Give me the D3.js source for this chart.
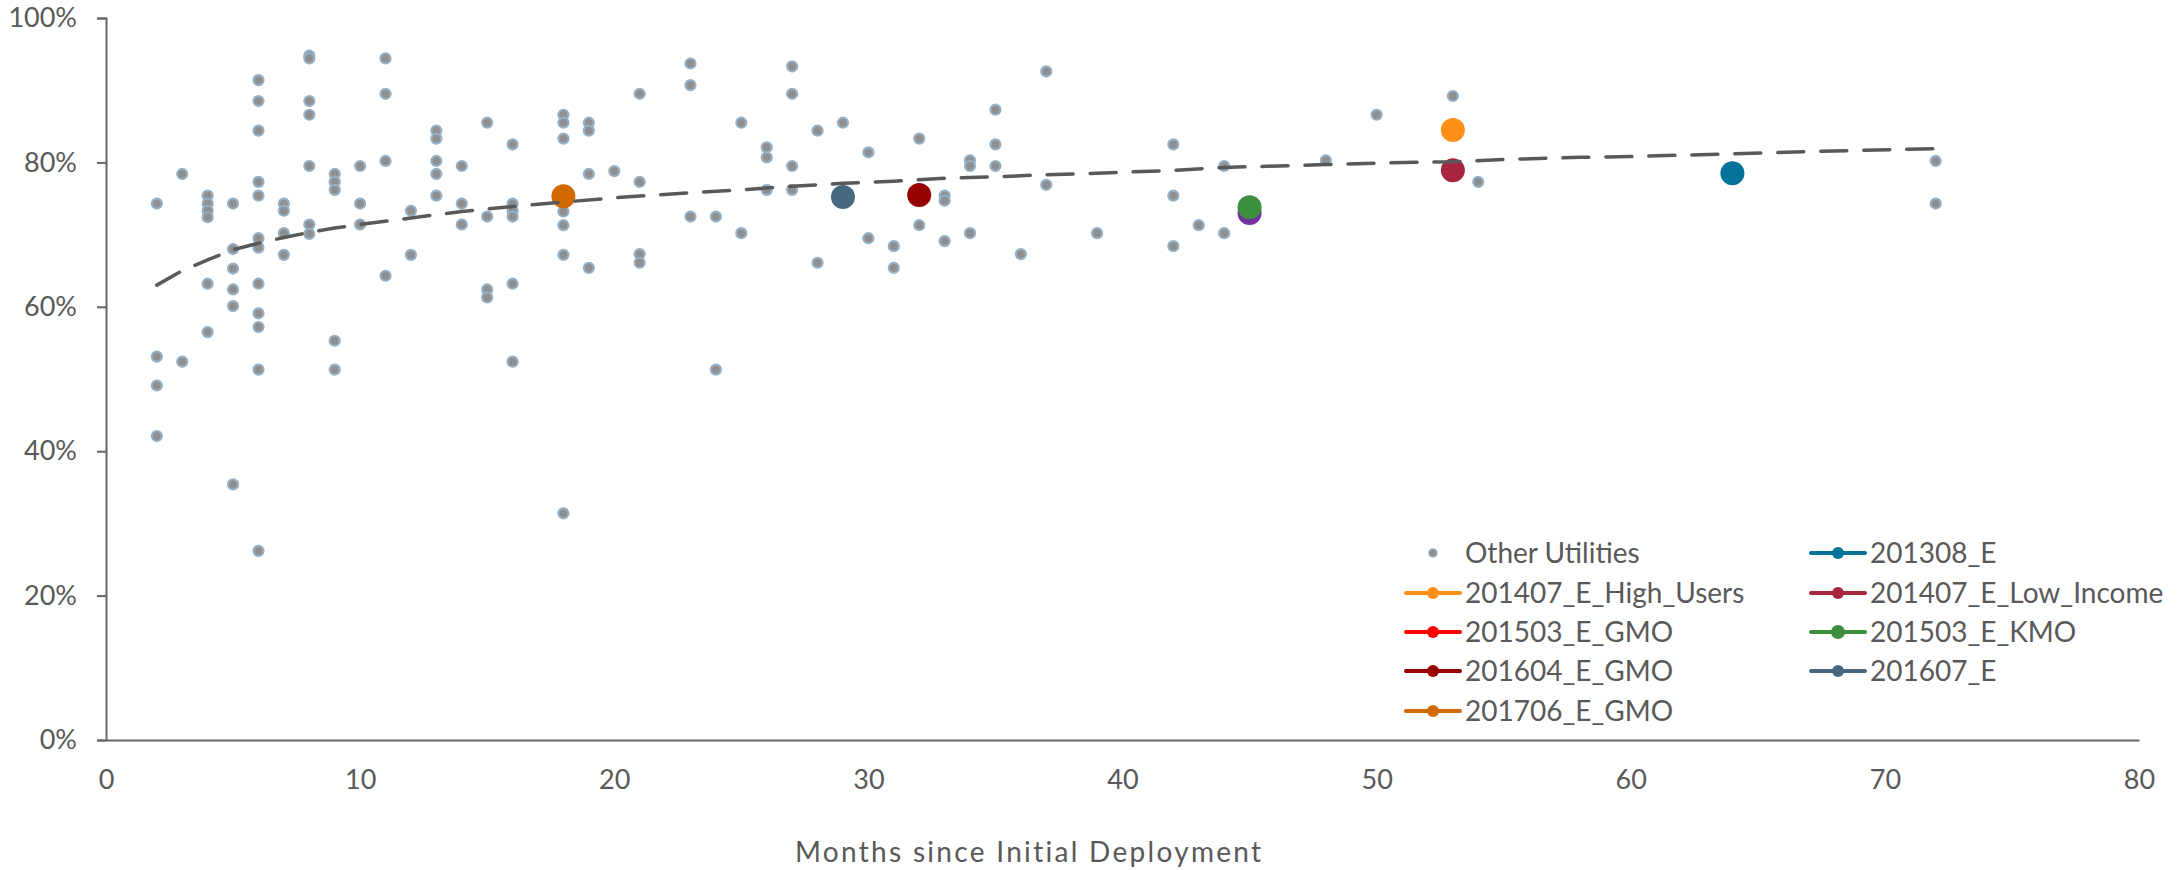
<!DOCTYPE html>
<html>
<head>
<meta charset="utf-8">
<script src="https://cdn.jsdelivr.net/npm/d3@7"></script>
<style>
  html, body { margin: 0; padding: 0; background: #ffffff; }
  svg { display: block; }
  text { font-family: Lato, "Open Sans", sans-serif; fill: #595959; }
</style>
</head>
<body>
<svg id="chart" width="2178" height="870"></svg>
<script>
// ---------------- DATA ----------------
const xTicks = [0, 10, 20, 30, 40, 50, 60, 70, 80];
const yTicks = [0, 20, 40, 60, 80, 100];
const xTitle = "Months since Initial Deployment";

// Other utilities (months, % )
const otherMonths = [
  2,2,2,2,
  3,3,
  4,4,4,4,4,4,
  5,5,5,5,5,5,
  6,6,6,6,6,6,6,6,6,6,6,6,
  7,7,7,7,
  8,8,8,8,8,8,8,
  9,9,9,9,9,
  10,10,10,
  11,11,11,11,
  12,12,
  13,13,13,13,13,
  14,14,14,
  15,15,15,15,
  16,16,16,16,16,16,
  18,18,18,18,18,18,18,
  19,19,19,19,
  20,
  21,21,21,21,
  23,23,23,
  24,24,
  25,25,
  26,26,26,
  27,27,27,27,
  28,28,
  29,
  30,30,
  31,31,
  32,32,
  33,33,33,
  34,34,34,
  35,35,35,
  36,
  37,37,
  39,
  42,42,42,
  43,
  44,44,
  48,
  50,
  53,
  54,
  72,72
];
const otherValues = [
  74.3,53.1,49.1,42.1,
  78.4,52.4,
  75.4,74.3,73.3,72.4,63.2,56.5,
  74.3,68.0,65.3,62.4,60.1,35.4,
  91.4,88.5,84.4,77.3,75.4,69.5,68.2,63.2,59.1,57.2,51.3,26.2,
  74.3,73.3,70.2,67.2,
  94.8,94.4,88.5,86.6,79.5,71.4,70.1,
  78.4,77.3,76.2,55.3,51.3,
  79.5,74.3,71.4,
  94.4,89.5,80.2,64.3,
  73.3,67.2,
  84.4,83.3,80.2,78.4,75.4,
  79.5,74.3,71.4,
  85.5,72.5,62.4,61.3,
  82.5,74.3,73.3,72.5,63.2,52.4,
  86.6,85.5,83.3,73.2,71.3,67.2,31.4,
  85.5,84.4,78.4,65.4,
  78.8,
  89.5,77.3,67.3,66.1,
  93.7,90.7,72.5,
  72.5,51.3,
  85.5,70.2,
  82.1,80.7,76.2,
  93.3,89.5,79.5,76.2,
  84.4,66.1,
  85.5,
  81.4,69.5,
  68.4,65.4,
  83.3,71.3,
  75.4,74.7,69.1,
  80.3,79.5,70.2,
  87.3,82.5,79.5,
  67.3,
  92.6,76.9,
  70.2,
  82.5,75.4,68.4,
  71.3,
  79.5,70.2,
  80.3,
  86.6,
  89.2,
  77.3,
  80.2,74.3
];

// Highlighted programs
const seriesNames = ["201308_E","201407_E_High_Users","201407_E_Low_Income","201503_E_GMO",
                     "201503_E_KMO","201604_E_GMO","201607_E","201706_E_GMO"];
const seriesColors = ["#03739A","#FF8F17","#A8243F","#FF0000","#3C8F3F","#960000","#47697F","#D06900"];
const seriesMonths = [[64],[53],[53],[],[45],[32],[29],[18]];
const seriesValues = [[78.5],[84.5],[78.9],[],[73.8],[75.5],[75.2],[75.3]];

// extra (unlabelled) program drawn beneath the KMO marker
const extraMonths = [45];
const extraValues = [73.0];
const extraColor = "#7330A0";

// Trend line
const trendMonths = [2,3,4,5,6,7,8,9,10,12,14,16,18,20,23,25,27,29,31,33,35,37,39,42,44,48,50,53,55,58,60,64,67,72];
const trendValues = [63.0,65.0,66.5,67.9,68.8,69.6,70.3,70.9,71.4,72.3,73.2,73.9,74.5,75.1,75.8,76.2,76.7,77.1,77.4,77.8,78.0,78.3,78.5,78.9,79.3,79.7,79.9,80.1,80.4,80.7,80.8,81.2,81.5,81.9];

// ---------------- CHART ----------------
const svg = d3.select("#chart");
const x = d3.scaleLinear().domain([0, 80]).range([106, 2139]);
const y = d3.scaleLinear().domain([0, 100]).range([740, 18]);
const axisColor = "#666666";
const fontSize = 27;

// Y axis
const gy = svg.append("g").attr("transform", `translate(${x(0)},0)`)
  .call(d3.axisLeft(y).tickValues(yTicks).tickFormat(d => d + "%").tickSize(9).tickPadding(20));
gy.select(".domain").attr("stroke", axisColor).attr("stroke-width", 2);
gy.selectAll(".tick line").attr("stroke", axisColor).attr("stroke-width", 2);
gy.selectAll(".tick text").attr("font-size", fontSize).attr("font-family", "Lato").attr("fill", "#595959");

// X axis
const gx = svg.append("g").attr("transform", `translate(0,${y(0)})`)
  .call(d3.axisBottom(x).tickValues(xTicks).tickSize(0).tickPadding(26));
gx.select(".domain").attr("stroke", axisColor).attr("stroke-width", 2);
gx.selectAll(".tick text").attr("font-size", fontSize).attr("font-family", "Lato").attr("fill", "#595959")
  .attr("dy", "0.32em").attr("y", 40);

// X title
svg.append("text").attr("x", 795).attr("y", 862)
  .attr("text-anchor", "start").attr("font-size", 28).attr("letter-spacing", "2.3px").text(xTitle);

// Other utilities points
const others = otherMonths.map((m, i) => ({ m, v: otherValues[i] }));
svg.append("g").selectAll("circle").data(others).join("circle")
  .attr("cx", d => x(d.m)).attr("cy", d => y(d.v)).attr("r", 5)
  .attr("fill", "#8F8F8F").attr("stroke", "#95B0C4").attr("stroke-width", 2.2);

// Extra point
svg.append("g").selectAll("circle").data(extraMonths.map((m, i) => ({ m, v: extraValues[i] })))
  .join("circle").attr("cx", d => x(d.m)).attr("cy", d => y(d.v)).attr("r", 12).attr("fill", extraColor);

// Highlighted series
seriesNames.forEach((name, si) => {
  const pts = seriesMonths[si].map((m, i) => ({ m, v: seriesValues[si][i] }));
  svg.append("g").selectAll("circle").data(pts).join("circle")
    .attr("cx", d => x(d.m)).attr("cy", d => y(d.v)).attr("r", 12).attr("fill", seriesColors[si]);
});

// Trend line (on top)
const trend = trendMonths.map((m, i) => ({ m, v: trendValues[i] }));
svg.append("path").datum(trend)
  .attr("d", d3.line().x(d => x(d.m)).y(d => y(d.v)))
  .attr("fill", "none").attr("stroke", "#595959").attr("stroke-width", 3.5)
  .attr("stroke-dasharray", "26,17").attr("stroke-linecap", "round");

// Legend
const legendItems = [{ name: "Other Utilities", color: null }]
  .concat(seriesNames.map((n, i) => ({ name: n, color: seriesColors[i] })));
const rowY = [553, 593, 632, 671, 711];
const colX = [1406, 1811];
const lg = svg.append("g");
legendItems.forEach((it, i) => {
  const col = i % 2, row = Math.floor(i / 2);
  const x0 = colX[col], yy = rowY[row];
  const g = lg.append("g");
  if (it.color === null) {
    g.append("circle").attr("cx", x0 + 27).attr("cy", yy).attr("r", 4)
      .attr("fill", "#8F8F8F").attr("stroke", "#95B0C4").attr("stroke-width", 1.5);
  } else {
    g.append("line").attr("x1", x0).attr("x2", x0 + 54).attr("y1", yy).attr("y2", yy)
      .attr("stroke", it.color).attr("stroke-width", 4).attr("stroke-linecap", "round");
    g.append("circle").attr("cx", x0 + 27).attr("cy", yy).attr("r", it.name === "201503_E_KMO" ? 7 : 6)
      .attr("fill", it.color);
  }
  g.append("text").attr("x", x0 + 59).attr("y", yy).attr("dy", "0.35em")
    .attr("font-size", 28).text(it.name);
});
</script>
</body>
</html>
